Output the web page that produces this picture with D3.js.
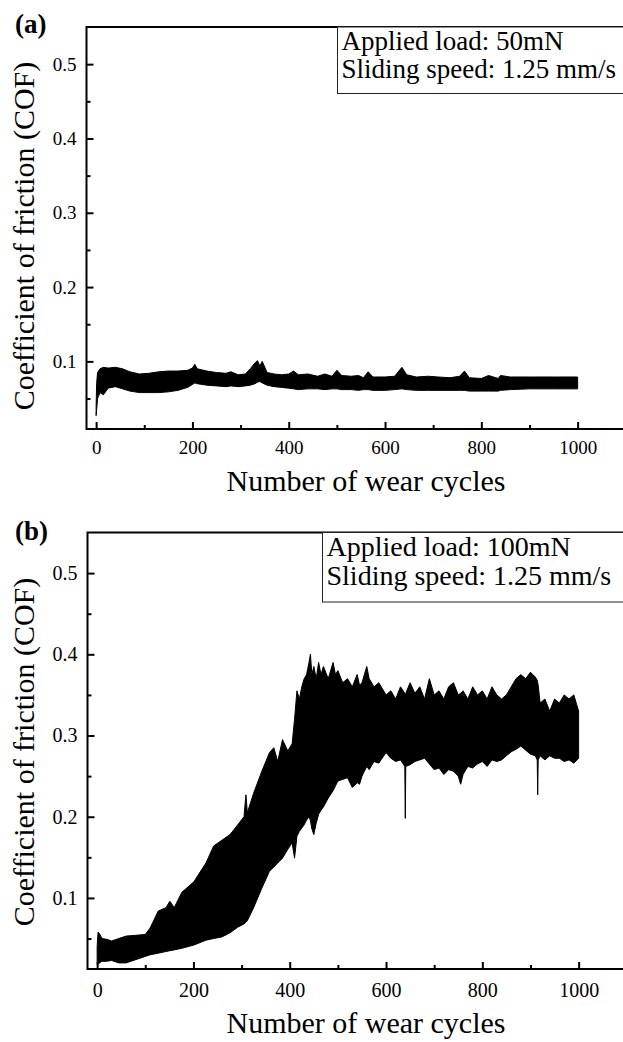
<!DOCTYPE html>
<html>
<head>
<meta charset="utf-8">
<title>COF vs wear cycles</title>
<script src="https://cdn.jsdelivr.net/npm/d3@7"></script>
<style>
  body { margin: 0; background: #fff; }
</style>
</head>
<body>
<div id="chart"></div>
<script>
// ---- data ----
const xTicks = [0, 200, 400, 600, 800, 1000];
const xMinor = [100, 300, 500, 700, 900];
const yTicks = [0.1, 0.2, 0.3, 0.4, 0.5];
const yMinor = [0.05, 0.15, 0.25, 0.35, 0.45];

// panel (a): 50 mN, upper / lower envelope of the COF trace
const cyclesA = [0, 1, 3, 8, 15, 25, 40, 55, 70, 90, 110, 130, 150, 170, 190, 200, 205, 210, 230, 250, 270, 280, 295, 310, 320, 330, 335, 340, 345, 355, 370, 385, 400, 410, 420, 440, 460, 475, 490, 500, 510, 530, 545, 555, 565, 575, 600, 620, 635, 645, 665, 690, 710, 735, 755, 765, 775, 800, 815, 835, 840, 860, 900, 950, 1000];
const upperA  = [0.040, 0.070, 0.085, 0.090, 0.092, 0.091, 0.092, 0.090, 0.086, 0.083, 0.084, 0.086, 0.087, 0.087, 0.088, 0.091, 0.096, 0.090, 0.087, 0.085, 0.084, 0.086, 0.082, 0.083, 0.090, 0.098, 0.101, 0.094, 0.100, 0.085, 0.083, 0.082, 0.083, 0.087, 0.082, 0.083, 0.080, 0.083, 0.080, 0.088, 0.081, 0.080, 0.081, 0.078, 0.086, 0.079, 0.079, 0.080, 0.092, 0.082, 0.079, 0.080, 0.079, 0.078, 0.080, 0.087, 0.078, 0.077, 0.081, 0.077, 0.081, 0.079, 0.079, 0.079, 0.079];
const lowerA  = [0.027, 0.035, 0.050, 0.058, 0.055, 0.064, 0.066, 0.063, 0.060, 0.058, 0.058, 0.058, 0.059, 0.061, 0.065, 0.069, 0.071, 0.070, 0.068, 0.067, 0.066, 0.067, 0.066, 0.067, 0.068, 0.070, 0.072, 0.073, 0.071, 0.068, 0.066, 0.065, 0.064, 0.063, 0.062, 0.063, 0.063, 0.062, 0.063, 0.063, 0.062, 0.062, 0.061, 0.062, 0.062, 0.061, 0.061, 0.062, 0.063, 0.062, 0.061, 0.061, 0.061, 0.061, 0.061, 0.061, 0.060, 0.060, 0.060, 0.060, 0.061, 0.062, 0.063, 0.063, 0.063];

// panel (b): 100 mN
const cyclesB = [0, 2, 5, 10, 20, 30, 45, 60, 80, 100, 110, 127, 143, 151, 160, 176, 201, 226, 242, 259, 276, 292, 305, 309, 312, 325, 342, 358, 367, 375, 385, 396, 405, 410, 415, 420, 425, 430, 435, 440, 443, 446, 450, 455, 460, 465, 470, 480, 490, 495, 500, 510, 520, 530, 540, 545, 550, 560, 565, 575, 585, 600, 610, 620, 630, 639, 640, 641, 650, 660, 670, 680, 690, 700, 710, 720, 730, 740, 750, 755, 760, 770, 780, 790, 800, 810, 820, 830, 840, 850, 860, 870, 880, 890, 900, 910, 914, 915, 916, 920, 930, 940, 950, 960, 970, 980, 990, 1000];
const upperB  = [0.040, 0.058, 0.056, 0.050, 0.049, 0.047, 0.050, 0.053, 0.054, 0.055, 0.063, 0.084, 0.088, 0.096, 0.088, 0.107, 0.120, 0.143, 0.164, 0.171, 0.178, 0.190, 0.200, 0.227, 0.205, 0.229, 0.256, 0.279, 0.285, 0.268, 0.295, 0.281, 0.290, 0.320, 0.355, 0.345, 0.360, 0.370, 0.375, 0.390, 0.400, 0.375, 0.385, 0.370, 0.390, 0.375, 0.385, 0.370, 0.390, 0.375, 0.380, 0.365, 0.370, 0.360, 0.375, 0.362, 0.365, 0.385, 0.370, 0.360, 0.365, 0.350, 0.355, 0.345, 0.360, 0.352, 0.350, 0.352, 0.365, 0.352, 0.360, 0.345, 0.370, 0.350, 0.355, 0.345, 0.360, 0.365, 0.350, 0.352, 0.355, 0.345, 0.360, 0.350, 0.355, 0.345, 0.360, 0.350, 0.345, 0.350, 0.360, 0.370, 0.375, 0.370, 0.378, 0.372, 0.368, 0.365, 0.362, 0.340, 0.345, 0.330, 0.345, 0.340, 0.350, 0.345, 0.350, 0.330];
const lowerB  = [0.018, 0.018, 0.020, 0.022, 0.022, 0.023, 0.020, 0.020, 0.024, 0.028, 0.030, 0.032, 0.034, 0.035, 0.036, 0.038, 0.042, 0.048, 0.050, 0.052, 0.057, 0.064, 0.068, 0.070, 0.072, 0.088, 0.112, 0.133, 0.138, 0.143, 0.149, 0.160, 0.168, 0.149, 0.176, 0.182, 0.186, 0.190, 0.196, 0.200, 0.195, 0.185, 0.178, 0.192, 0.203, 0.208, 0.212, 0.223, 0.232, 0.238, 0.244, 0.246, 0.248, 0.236, 0.242, 0.240, 0.250, 0.262, 0.258, 0.268, 0.266, 0.279, 0.272, 0.268, 0.270, 0.262, 0.198, 0.262, 0.264, 0.268, 0.270, 0.272, 0.265, 0.258, 0.260, 0.252, 0.258, 0.256, 0.250, 0.240, 0.252, 0.262, 0.260, 0.265, 0.268, 0.262, 0.270, 0.268, 0.270, 0.275, 0.280, 0.283, 0.287, 0.282, 0.277, 0.275, 0.270, 0.227, 0.270, 0.275, 0.270, 0.275, 0.272, 0.272, 0.268, 0.270, 0.266, 0.272];

const W = 623, H = 1042;
const serif = "'Liberation Serif', 'Times New Roman', serif";

const svg = d3.select("#chart").append("svg")
    .attr("width", W)
    .attr("height", H)
    .attr("font-family", serif);

function drawPanel(p) {
    const x = d3.scaleLinear().domain([-20, 1100]).range([p.left, p.left + 1120 * 0.4815]);
    const y = d3.scaleLinear().domain(p.yDomain).range([p.bottom, p.top]);
    const g = svg.append("g");

    // data band
    const rows = p.cycles.map((c, i) => ({c: c, hi: p.upper[i], lo: p.lower[i]}));
    const area = d3.area()
        .x(d => x(d.c))
        .y0(d => y(d.lo))
        .y1(d => y(d.hi));
    g.append("path")
        .datum(rows)
        .attr("d", area)
        .style("fill", "#000")
        .style("stroke", "#000")
        .style("stroke-width", 1);

    // axes, ticks pointing inward
    const xAx = g.append("g")
        .attr("transform", "translate(0," + p.bottom + ")")
        .call(d3.axisBottom(x).tickValues(xTicks).tickSize(-7).tickSizeOuter(0).tickPadding(p.xPad).tickFormat(d3.format("d")));
    const xAxMinor = g.append("g")
        .attr("transform", "translate(0," + p.bottom + ")")
        .call(d3.axisBottom(x).tickValues(xMinor).tickSize(-4).tickSizeOuter(0).tickFormat(""));
    const yAx = g.append("g")
        .attr("transform", "translate(" + p.left + ",0)")
        .call(d3.axisLeft(y).tickValues(yTicks).tickSize(-7).tickSizeOuter(0).tickPadding(10).tickFormat(d3.format(".1f")));
    const yAxMinor = g.append("g")
        .attr("transform", "translate(" + p.left + ",0)")
        .call(d3.axisLeft(y).tickValues(yMinor).tickSize(-4).tickSizeOuter(0).tickFormat(""));

    [xAx, xAxMinor, yAx, yAxMinor].forEach(a => {
        a.attr("font-family", serif).attr("font-size", p.tickFont);
        a.select(".domain").remove();
        a.selectAll("line").style("stroke", "#000").style("stroke-width", 2);
        a.selectAll("text").style("fill", "#000");
    });

    // frame (right side runs off the cropped figure)
    g.append("path")
        .attr("d", "M" + (W + 20) + "," + p.top + "H" + p.left + "V" + p.bottom + "H" + (W + 20))
        .style("fill", "none")
        .style("stroke", "#000")
        .style("stroke-width", 2);

    // legend box
    g.append("rect")
        .attr("x", p.boxX)
        .attr("y", p.top)
        .attr("width", W + 20 - p.boxX)
        .attr("height", p.boxH)
        .style("fill", "#fff")
        .style("stroke", "#222")
        .style("stroke-width", 1);
    g.append("text")
        .attr("x", p.boxX + 4)
        .attr("y", p.top + p.boxH * 0.34)
        .style("font-size", p.boxFont + "px")
        .text(p.load);
    g.append("text")
        .attr("x", p.boxX + 4)
        .attr("y", p.top + p.boxH * 0.76)
        .style("font-size", p.boxFont + "px")
        .text("Sliding speed: 1.25 mm/s");

    // panel letter
    g.append("text")
        .attr("x", 15)
        .attr("y", p.letterY)
        .style("font-size", "27px")
        .style("font-weight", "bold")
        .text(p.letter);

    // axis titles
    g.append("text")
        .attr("x", 366)
        .attr("y", p.xTitleY)
        .attr("text-anchor", "middle")
        .style("font-size", "30px")
        .text("Number of wear cycles");
    g.append("text")
        .attr("transform", "translate(34," + p.yTitleC + ") rotate(-90)")
        .attr("text-anchor", "middle")
        .style("font-size", "30px")
        .text("Coefficient of friction (COF)");
}

drawPanel({
    cycles: cyclesA, upper: upperA, lower: lowerA,
    left: 86.5, top: 27, bottom: 429, yDomain: [0.009, 0.55],
    xPad: 12, tickFont: 19,
    boxX: 337.5, boxH: 66.5, boxFont: 27, load: "Applied load: 50mN",
    letter: "(a)", letterY: 33, xTitleY: 491, yTitleC: 236
});

drawPanel({
    cycles: cyclesB, upper: upperB, lower: lowerB,
    left: 87.5, top: 532.5, bottom: 969, yDomain: [0.0125, 0.55],
    xPad: 14, tickFont: 20,
    boxX: 322.5, boxH: 69.5, boxFont: 28, load: "Applied load: 100mN",
    letter: "(b)", letterY: 540, xTitleY: 1033, yTitleC: 752
});
</script>
</body>
</html>
